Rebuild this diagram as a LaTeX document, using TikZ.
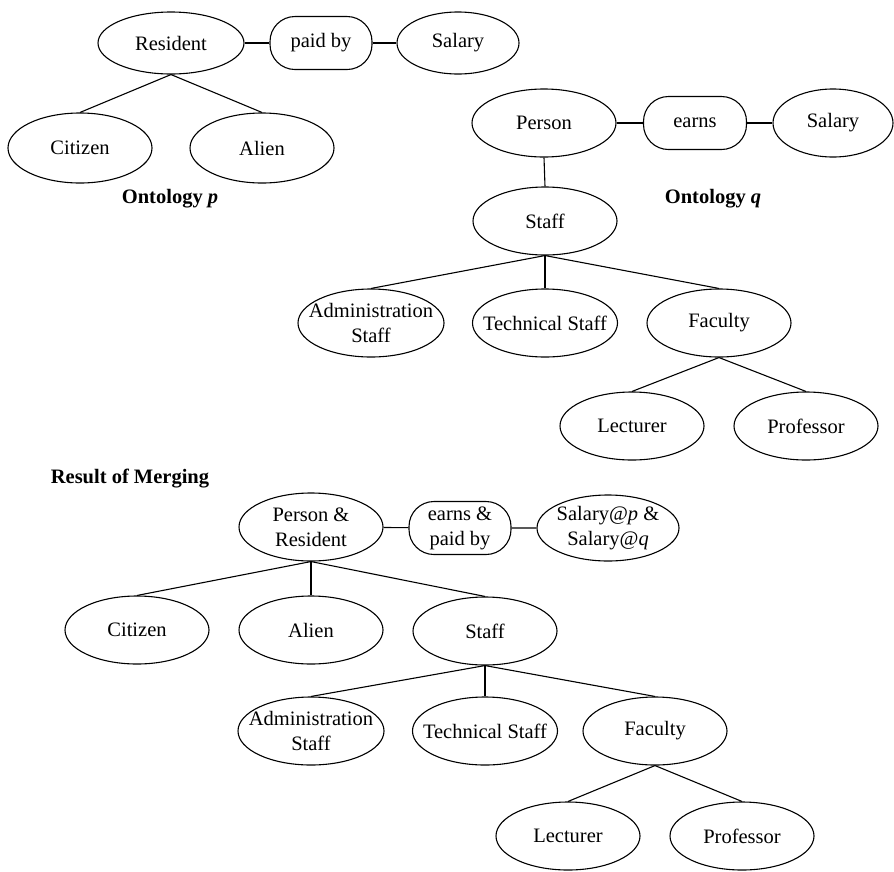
\documentclass[tikz,border=0pt]{standalone}
\usepackage{fontspec}
\setmainfont{Liberation Serif}
\usetikzlibrary{shapes.geometric}
\newcommand\fsz{\fontsize{20.5}{25}\selectfont}
\newcommand\zb[1]{\makebox[0pt]{#1}}
\tikzset{
  ell/.style={draw, ellipse, line width=1.1pt, inner sep=0pt, minimum width=144pt, minimum height=68pt, align=center, font=\fsz},
  rel/.style={draw, rounded corners=25pt, line width=1.1pt, inner sep=0pt, minimum width=102pt, minimum height=53pt, align=center, font=\fsz},
  lab/.style={font=\fsz\bfseries, inner sep=0pt},
  conn/.style={line width=1.1pt}
}
\begin{document}
\begin{tikzpicture}[x=1pt,y=-1pt]
\useasboundingbox (0,0) rectangle (894,871);
% Ontology p
\node[ell, minimum width=146pt, minimum height=62pt] (resident) at (171,43) {Resident};
\node[rel] (paidby) at (321,43) {paid by};
\node[ell, minimum width=122pt, minimum height=62pt] (salp) at (458,43) {Salary};
\node[ell, minimum height=70pt] (citp) at (80,148) {Citizen};
\node[ell, minimum height=70pt] (alienp) at (262,148) {Alien};
\node[lab] (ontp) at (170,199) {Ontology \textit{p}};
\draw[conn] (resident) -- (paidby) -- (salp);
\draw[conn] (resident.south) -- (citp.north);
\draw[conn] (resident.south) -- (alienp.north);
% Ontology q
\node[ell] (person) at (544,123) {Person};
\node[rel, minimum width=103pt] (earns) at (695,123) {earns};
\node[ell, minimum width=120pt] (salq) at (833,123) {Salary};
\node[ell] (staffq) at (545,221) {Staff};
\node[lab] (ontq) at (713,199) {Ontology \textit{q}};
\node[ell, minimum width=146pt] (adminq) at (371,323) {\zb{Administration}\\\zb{Staff}};
\node[ell, minimum width=145pt] (techq) at (545,323) {\zb{Technical Staff}};
\node[ell] (facq) at (719,323) {Faculty};
\node[ell] (lectq) at (632,426) {Lecturer};
\node[ell] (profq) at (806,426) {Professor};
\draw[conn] (person) -- (earns) -- (salq);
\draw[conn] (person.south) -- (staffq.north);
\draw[conn] (staffq.south) -- (adminq.north);
\draw[conn] (staffq.south) -- (techq.north);
\draw[conn] (staffq.south) -- (facq.north);
\draw[conn] (facq.south) -- (lectq.north);
\draw[conn] (facq.south) -- (profq.north);
% Result of merging
\node[lab] (mlab) at (130,479) {Result of Merging};
\node[ell] (pr) at (311,527) {Person \&\\Resident};
\node[rel] (ep) at (460,528) {earns \&\\paid by};
\node[ell, minimum width=142pt, minimum height=66pt] (salm) at (608,528) {\zb{Salary@\textit{p} \&}\\\zb{Salary@\textit{q}}};
\node[ell] (citm) at (137,630) {Citizen};
\node[ell] (alienm) at (311,630) {Alien};
\node[ell] (staffm) at (485,631) {Staff};
\node[ell, minimum width=146pt] (adminm) at (311,731) {\zb{Administration}\\\zb{Staff}};
\node[ell, minimum width=145pt] (techm) at (485,731) {\zb{Technical Staff}};
\node[ell] (facm) at (655,731) {Faculty};
\node[ell] (lectm) at (568,836) {Lecturer};
\node[ell] (profm) at (742,836) {Professor};
\draw[conn] (pr) -- (ep) -- (salm);
\draw[conn] (pr.south) -- (citm.north);
\draw[conn] (pr.south) -- (alienm.north);
\draw[conn] (pr.south) -- (staffm.north);
\draw[conn] (staffm.south) -- (adminm.north);
\draw[conn] (staffm.south) -- (techm.north);
\draw[conn] (staffm.south) -- (facm.north);
\draw[conn] (facm.south) -- (lectm.north);
\draw[conn] (facm.south) -- (profm.north);
\end{tikzpicture}
\end{document}
